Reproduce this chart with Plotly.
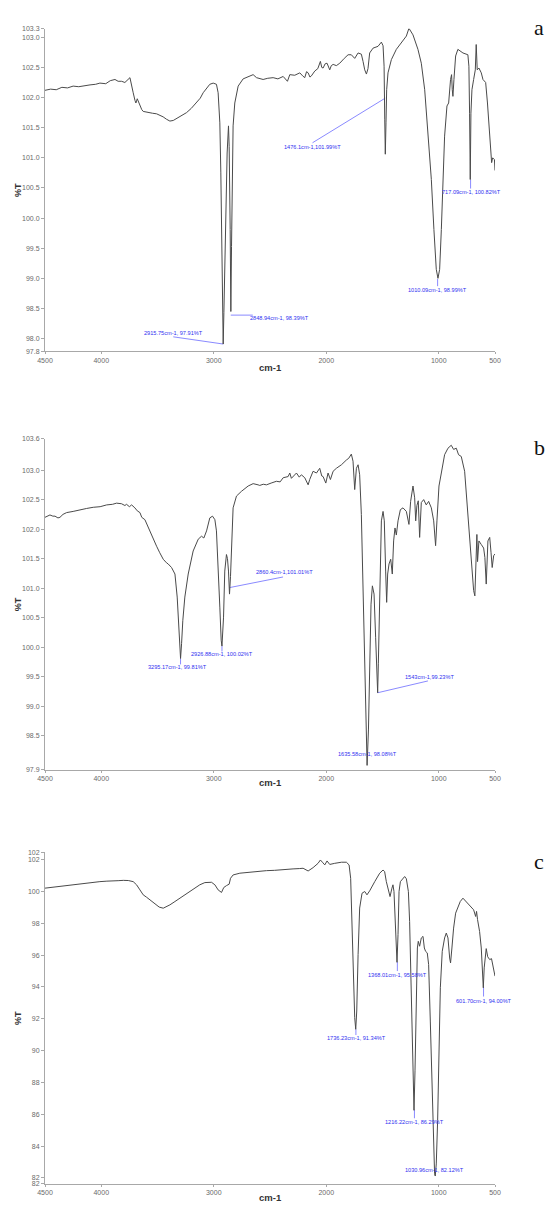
import plotly.graph_objects as go

# ---------------- data ----------------
# Spectrum a
wn_a = [4500, 4450, 4400, 4350, 4300, 4250, 4200, 4150, 4100, 4050, 4012, 3960, 3920, 3878, 3850, 3819, 3790, 3745,
        3730, 3716, 3700, 3692, 3680, 3668, 3656, 3640, 3627, 3582, 3545, 3508, 3479, 3450, 3420, 3390, 3360, 3331,
        3290, 3242, 3200, 3153, 3120, 3094, 3060, 3035, 3005, 2976, 2961, 2946, 2937, 2928, 2922, 2916, 2910, 2901,
        2893, 2881, 2869, 2863, 2854, 2848, 2842, 2836, 2828, 2813, 2783, 2739, 2680, 2650, 2620, 2561, 2520, 2472,
        2430, 2383, 2345, 2324, 2280, 2235, 2210, 2191, 2175, 2161, 2145, 2132, 2102, 2075, 2052, 2040, 2028, 2010,
        1993, 1969, 1955, 1939, 1910, 1880, 1840, 1806, 1777, 1747, 1717, 1688, 1673, 1658, 1643, 1629, 1614, 1584,
        1540, 1510, 1495, 1486, 1480, 1475, 1469, 1463, 1451, 1421, 1377, 1318, 1288, 1265, 1229, 1185, 1155, 1125,
        1096, 1066, 1043, 1022, 1007, 992, 977, 963, 948, 927, 912, 895, 886, 880, 874, 865, 850, 830, 785, 741, 732,
        726, 720, 714, 705, 690, 675, 667, 658, 643, 622, 607, 583, 567, 546, 530, 521, 505, 500]
t_a = [102.12, 102.14, 102.13, 102.17, 102.16, 102.19, 102.18, 102.20, 102.21, 102.22, 102.24, 102.23, 102.28, 102.30,
       102.27, 102.27, 102.25, 102.33, 102.22, 102.08, 101.95, 101.91, 101.98, 101.92, 101.86, 101.80, 101.77, 101.75,
       101.74, 101.73, 101.71, 101.68, 101.64, 101.61, 101.62, 101.65, 101.69, 101.75, 101.82, 101.91, 101.99, 102.08,
       102.16, 102.22, 102.24, 102.22, 102.08, 101.58, 100.75, 99.32, 97.94, 97.91, 98.43, 99.34, 100.53, 101.08,
       101.53, 101.19, 99.81, 98.45, 99.53, 100.75, 101.53, 101.91, 102.19, 102.31, 102.36, 102.38, 102.33, 102.30,
       102.32, 102.33, 102.31, 102.35, 102.27, 102.38, 102.37, 102.41, 102.36, 102.33, 102.43, 102.41, 102.34, 102.36,
       102.44, 102.48, 102.60, 102.50, 102.49, 102.56, 102.57, 102.46, 102.53, 102.55, 102.53, 102.57, 102.65, 102.71,
       102.71, 102.65, 102.74, 102.72, 102.60, 102.46, 102.39, 102.48, 102.74, 102.82, 102.85, 102.92, 102.86, 102.52,
       101.63, 101.06, 101.58, 102.13, 102.41, 102.63, 102.80, 102.96, 103.02, 103.15, 103.04, 102.80, 102.57, 102.13,
       101.47, 100.64, 99.81, 99.15, 99.00, 99.15, 99.81, 100.64, 101.36, 101.86, 101.91, 102.30, 102.38, 102.13,
       102.02, 102.30, 102.69, 102.80, 102.74, 102.71, 102.52, 101.74, 100.64, 101.74, 102.13, 102.30, 102.46, 102.88,
       102.46, 102.49, 102.41, 102.30, 102.25, 101.91, 101.36, 100.92, 101.00, 100.97, 100.79]

# Spectrum b
wn_b = [4500, 4456, 4430, 4411, 4385, 4367, 4340, 4308, 4250, 4189, 4130, 4071, 4010, 3952, 3900, 3864, 3820, 3790,
        3775, 3750, 3730, 3701, 3680, 3656, 3640, 3612, 3590, 3568, 3540, 3508, 3480, 3449, 3420, 3405, 3375, 3345,
        3325, 3310, 3298, 3295, 3286, 3275, 3257, 3227, 3183, 3138, 3109, 3088, 3064, 3035, 3011, 2990, 2976, 2961,
        2946, 2934, 2927, 2913, 2902, 2887, 2878, 2869, 2860, 2851, 2842, 2828, 2798, 2754, 2694, 2650, 2606, 2591,
        2560, 2531, 2490, 2443, 2410, 2383, 2339, 2324, 2310, 2295, 2265, 2240, 2221, 2191, 2161, 2147, 2117, 2087,
        2058, 2040, 2028, 2004, 1984, 1963, 1939, 1910, 1865, 1821, 1800, 1777, 1762, 1747, 1732, 1717, 1703, 1688,
        1673, 1658, 1646, 1637, 1625, 1614, 1602, 1590, 1575, 1561, 1549, 1543, 1537, 1525, 1510, 1495, 1484, 1472,
        1463, 1454, 1442, 1427, 1413, 1401, 1389, 1377, 1362, 1341, 1318, 1288, 1265, 1250, 1229, 1214, 1205, 1194,
        1182, 1170, 1155, 1134, 1111, 1090, 1066, 1045, 1028, 1016, 998, 977, 948, 918, 889, 868, 844, 824, 800, 770,
        741, 720, 702, 690, 679, 667, 661, 655, 643, 622, 601, 590, 578, 563, 547, 535, 525, 512, 500]
t_b = [102.20, 102.24, 102.22, 102.22, 102.19, 102.20, 102.25, 102.28, 102.30, 102.33, 102.35, 102.37, 102.38, 102.41,
       102.42, 102.44, 102.43, 102.40, 102.42, 102.38, 102.41, 102.36, 102.31, 102.28, 102.20, 102.16, 102.06, 101.97,
       101.85, 101.71, 101.60, 101.49, 101.43, 101.41, 101.35, 101.24, 100.85, 100.28, 99.84, 99.81, 100.06, 100.45,
       100.85, 101.24, 101.63, 101.83, 101.88, 101.85, 101.97, 102.19, 102.22, 102.16, 101.97, 101.41, 100.68, 100.12,
       100.02, 100.51, 101.29, 101.57, 101.50, 101.29, 100.90, 101.20, 101.80, 102.36, 102.56, 102.64, 102.73, 102.77,
       102.75, 102.74, 102.76, 102.75, 102.78, 102.81, 102.80, 102.87, 102.89, 102.95, 102.86, 102.89, 102.95, 102.88,
       102.92, 102.87, 102.75, 102.84, 102.98, 102.95, 103.03, 102.90, 102.89, 102.78, 102.95, 102.84, 102.98, 103.03,
       103.09, 103.17, 103.20, 103.27, 103.15, 102.67, 103.03, 103.09, 102.92, 102.25, 101.12, 100.00, 98.88, 98.00,
       98.60, 99.72, 100.73, 101.04, 100.90, 100.17, 99.27, 99.23, 99.72, 101.12, 102.14, 102.30, 102.14, 101.29,
       100.76, 101.24, 101.41, 101.49, 101.24, 101.80, 102.02, 101.90, 102.14, 102.33, 102.36, 102.30, 102.08, 102.47,
       102.73, 102.53, 102.14, 102.40, 102.48, 101.86, 102.45, 102.50, 102.41, 102.47, 102.36, 102.14, 101.72, 102.14,
       102.73, 102.95, 103.26, 103.37, 103.42, 103.35, 103.37, 103.26, 103.23, 102.98, 102.25, 101.74, 101.29, 100.96,
       100.87, 101.41, 101.91, 101.45, 101.80, 101.74, 101.68, 101.52, 101.07, 101.80, 101.86, 101.60, 101.35, 101.55,
       101.58]

# Spectrum c
wn_c = [4500, 4400, 4308, 4220, 4130, 4070, 4012, 3950, 3893, 3850, 3804, 3760, 3716, 3686, 3656, 3627, 3597, 3568,
        3523, 3485, 3449, 3420, 3390, 3345, 3301, 3255, 3212, 3165, 3124, 3079, 3020, 2990, 2961, 2931, 2911, 2887,
        2863, 2851, 2828, 2768, 2680, 2606, 2531, 2460, 2383, 2295, 2240, 2206, 2161, 2117, 2073, 2052, 2034, 2013,
        1993, 1969, 1925, 1865, 1821, 1797, 1783, 1771, 1759, 1747, 1738, 1729, 1717, 1703, 1682, 1658, 1638, 1614,
        1569, 1525, 1495, 1481, 1466, 1445, 1433, 1416, 1407, 1398, 1386, 1377, 1371, 1362, 1353, 1341, 1318, 1303,
        1288, 1270, 1259, 1247, 1235, 1226, 1220, 1211, 1199, 1190, 1182, 1170, 1155, 1140, 1128, 1117, 1102, 1090,
        1075, 1060, 1049, 1037, 1031, 1022, 1010, 998, 986, 969, 948, 933, 918, 903, 895, 883, 868, 850, 830, 809, 785,
        756, 726, 690, 672, 664, 655, 637, 622, 613, 604, 596, 584, 578, 565, 547, 531, 516, 500]
t_c = [100.21, 100.30, 100.35, 100.44, 100.52, 100.57, 100.62, 100.65, 100.69, 100.68, 100.70, 100.69, 100.62, 100.42,
       100.10, 99.79, 99.64, 99.48, 99.21, 99.02, 98.95, 99.04, 99.16, 99.37, 99.58, 99.79, 100.00, 100.21, 100.42,
       100.56, 100.58, 100.42, 100.10, 99.94, 100.25, 100.37, 100.46, 100.83, 101.04, 101.15, 101.21, 101.29, 101.31,
       101.33, 101.35, 101.42, 101.44, 101.46, 101.29, 101.50, 101.77, 101.98, 101.84, 101.67, 101.92, 101.70, 101.77,
       101.84, 101.84, 101.67, 100.83, 98.12, 94.57, 92.07, 91.34, 92.49, 96.03, 98.96, 99.89, 100.00, 99.79, 100.04,
       100.62, 101.15, 101.35, 101.25, 100.62, 99.89, 99.68, 100.21, 100.42, 100.00, 98.12, 95.82, 95.55, 97.29, 100.00,
       100.62, 100.83, 100.94, 100.80, 100.00, 98.12, 93.95, 89.77, 86.64, 86.25, 88.73, 93.95, 96.45, 96.87, 96.56,
       97.08, 97.18, 96.45, 96.24, 96.14, 95.41, 91.86, 87.69, 84.56, 82.26, 82.12, 82.88, 85.60, 89.77, 93.95, 96.24,
       97.08, 97.39, 97.08, 95.82, 95.51, 96.45, 97.70, 98.64, 98.96, 99.37, 99.58, 99.37, 99.16, 98.85, 98.43, 98.75,
       98.23, 97.49, 96.45, 94.99, 93.95, 95.20, 96.35, 96.41, 95.90, 95.72, 95.78, 95.30, 94.68]

# Peak labels: text, text position (wavenumber, %T), leader line from peak to (wavenumber, %T)
lab_a = ["2915.75cm-1, 97.91%T", "2848.94cm-1, 98.39%T", "1476.1cm-1,101.99%T", "1010.09cm-1, 98.99%T",
         "717.09cm-1, 100.82%T"]
lab_a_x = [3354, 2413, 2120, 1010, 712]
lab_a_y = [98.10, 98.35, 101.18, 98.81, 100.43]
lead_a = [[(2915.75, 97.91), (3360, 98.03)], [(2848.94, 98.39), (2653, 98.39)], [(1476.1, 101.99), (2122, 101.25)],
          [(1010.09, 98.99), (1010.09, 98.87)], [(717.09, 100.64), (717.09, 100.49)]]

lab_b = ["3295.17cm-1, 99.81%T", "2926.88cm-1, 100.02%T", "2860.4cm-1,101.01%T", "1543cm-1,99.23%T",
         "1635.58cm-1, 98.08%T"]
lab_b_x = [3319, 2931, 2371, 1085, 1636]
lab_b_y = [99.66, 99.88, 101.27, 99.49, 98.20]
lead_b = [[(3295.17, 99.81), (3295.17, 99.71)], [(2926.88, 100.02), (2926.88, 99.93)],
          [(2860.4, 101.01), (2384, 101.19)], [(1543, 99.23), (1096, 99.43)]]

lab_c = ["1736.23cm-1, 91.34%T", "1368.01cm-1, 95.58%T", "1216.22cm-1, 86.29%T", "1030.96cm-1, 82.12%T",
         "601.70cm-1, 94.00%T"]
lab_c_x = [1732, 1365, 1214, 1034, 597]
lab_c_y = [90.81, 94.78, 85.49, 82.47, 93.11]
lead_c = [[(1736.23, 91.34), (1736.23, 90.98)], [(1368.01, 95.58), (1368.01, 95.0)],
          [(1216.22, 86.29), (1216.22, 85.75)], [(601.70, 94.0), (601.70, 93.4)]]

# Axes
x_ticks = [4500, 4000, 3000, 2000, 1000, 500]
x_ticktext = ["4500", "4000", "3000", "2000", "1000", "500"]
y_range_a = [97.79, 103.14]
y_ticks_a = [97.79, 98.0, 98.5, 99.0, 99.5, 100.0, 100.5, 101.0, 101.5, 102.0, 102.5, 103.0, 103.14]
y_ticktext_a = ["97.8", "98.0", "98.5", "99.0", "99.5", "100.0", "100.5", "101.0", "101.5", "102.0", "102.5", "103.0", "103.3"]
y_range_b = [97.93, 103.53]
y_ticks_b = [97.93, 98.5, 99.0, 99.5, 100.0, 100.5, 101.0, 101.5, 102.0, 102.5, 103.0, 103.53]
y_ticktext_b = ["97.9", "98.5", "99.0", "99.5", "100.0", "100.5", "101.0", "101.5", "102.0", "102.5", "103.0", "103.6"]
y_range_c = [81.63, 102.46]
y_ticks_c = [81.63, 82, 84, 86, 88, 90, 92, 94, 96, 98, 100, 102, 102.46]
y_ticktext_c = ["82", "82", "84", "86", "88", "90", "92", "94", "96", "98", "100", "102", "102"]
panel_letters = ["a", "b", "c"]

# ---------------- figure ----------------
W, H = 547, 1207
PL, PW = 45, 450                 # plot area left edge and width (px)
# vertical extent of each panel's plot area in pixels (top, bottom)
panel_px = [(25, 349.3), (437.3, 770), (853.3, 1186.7)]
domains = [[1 - b / H, 1 - t / H] for (t, b) in panel_px]
panels = [
    (wn_a, t_a, lab_a, lab_a_x, lab_a_y, lead_a, y_range_a, y_ticks_a, y_ticktext_a),
    (wn_b, t_b, lab_b, lab_b_x, lab_b_y, lead_b, y_range_b, y_ticks_b, y_ticktext_b),
    (wn_c, t_c, lab_c, lab_c_x, lab_c_y, lead_c, y_range_c, y_ticks_c, y_ticktext_c),
]

fig = go.Figure()
annotations = []
axis_col = "#a8a8a8"
tick_font = dict(family="Liberation Sans, Arial, sans-serif", size=7, color="#6a6a6a")
blue = "#3030f0"
lead_col = "#8a8aff"

xlab_y = [366, 783, 1200]       # px of the "cm-1" titles
letter_y = [24, 446, 863]       # px of the panel letters
letter_x = 539
ytitle_x = 18

def px_to_paper_x(px):
    return (px - PL) / PW

def px_to_paper_y(py):
    return 1 - py / H

for i, (wn, tt, labs, lx, ly, leads, yr, yt, ytt) in enumerate(panels):
    n = "" if i == 0 else str(i + 1)
    xa, ya = "x" + n, "y" + n
    # leader lines
    lxs, lys = [], []
    for seg in leads:
        for (px, py) in seg:
            lxs.append(px)
            lys.append(py)
        lxs.append(None)
        lys.append(None)
    fig.add_trace(go.Scatter(x=lxs, y=lys, mode="lines", line=dict(color=lead_col, width=1),
                             xaxis=xa, yaxis=ya, hoverinfo="skip", showlegend=False))
    fig.add_trace(go.Scatter(x=wn, y=tt, mode="lines", line=dict(color="#4a4a4a", width=1),
                             xaxis=xa, yaxis=ya, showlegend=False))
    for txt, tx, ty in zip(labs, lx, ly):
        annotations.append(dict(x=tx, y=ty, xref=xa, yref=ya, text=txt, showarrow=False,
                                font=dict(family="Liberation Sans, Arial, sans-serif", size=5.6, color=blue)))
    fig.layout["xaxis" + n] = dict(domain=[0, 1], anchor=ya, range=[4500, 500], tickvals=x_ticks,
                                   ticktext=x_ticktext, showline=True, linecolor=axis_col, linewidth=1,
                                   ticks="outside", ticklen=2, tickcolor=axis_col, tickfont=tick_font,
                                   showgrid=False, zeroline=False)
    fig.layout["yaxis" + n] = dict(domain=domains[i], anchor=xa, range=yr, tickvals=yt, ticktext=ytt,
                                   showline=True, linecolor=axis_col, linewidth=1, ticks="outside", ticklen=3,
                                   tickcolor=axis_col, tickfont=tick_font, showgrid=False, zeroline=False)
    dmid = (domains[i][0] + domains[i][1]) / 2
    annotations.append(dict(x=px_to_paper_x(ytitle_x), y=dmid, xref="paper", yref="paper", text="<b>%T</b>",
                            textangle=-90, showarrow=False, xanchor="center", yanchor="middle",
                            font=dict(family="Liberation Sans, Arial, sans-serif", size=9, color="#333333")))
    annotations.append(dict(x=0.5, y=px_to_paper_y(xlab_y[i]), xref="paper", yref="paper", text="<b>cm-1</b>",
                            showarrow=False, xanchor="center", yanchor="middle",
                            font=dict(family="Liberation Sans, Arial, sans-serif", size=9.5, color="#333333")))
    annotations.append(dict(x=px_to_paper_x(letter_x), y=px_to_paper_y(letter_y[i]), xref="paper", yref="paper",
                            text=panel_letters[i], showarrow=False, xanchor="center", yanchor="middle",
                            font=dict(family="Liberation Serif, Times New Roman, serif", size=22, color="#111111")))

fig.update_layout(width=W, height=H, margin=dict(l=PL, r=W - PL - PW, t=0, b=0), paper_bgcolor="white",
                  plot_bgcolor="white", annotations=annotations, showlegend=False, hovermode=False)

# remove the default 8 px page margin so the figure fills the window exactly
fig.write_html("out.html", config={"displayModeBar": False},
               post_script="document.body.style.margin='0';document.body.style.overflow='hidden';")
